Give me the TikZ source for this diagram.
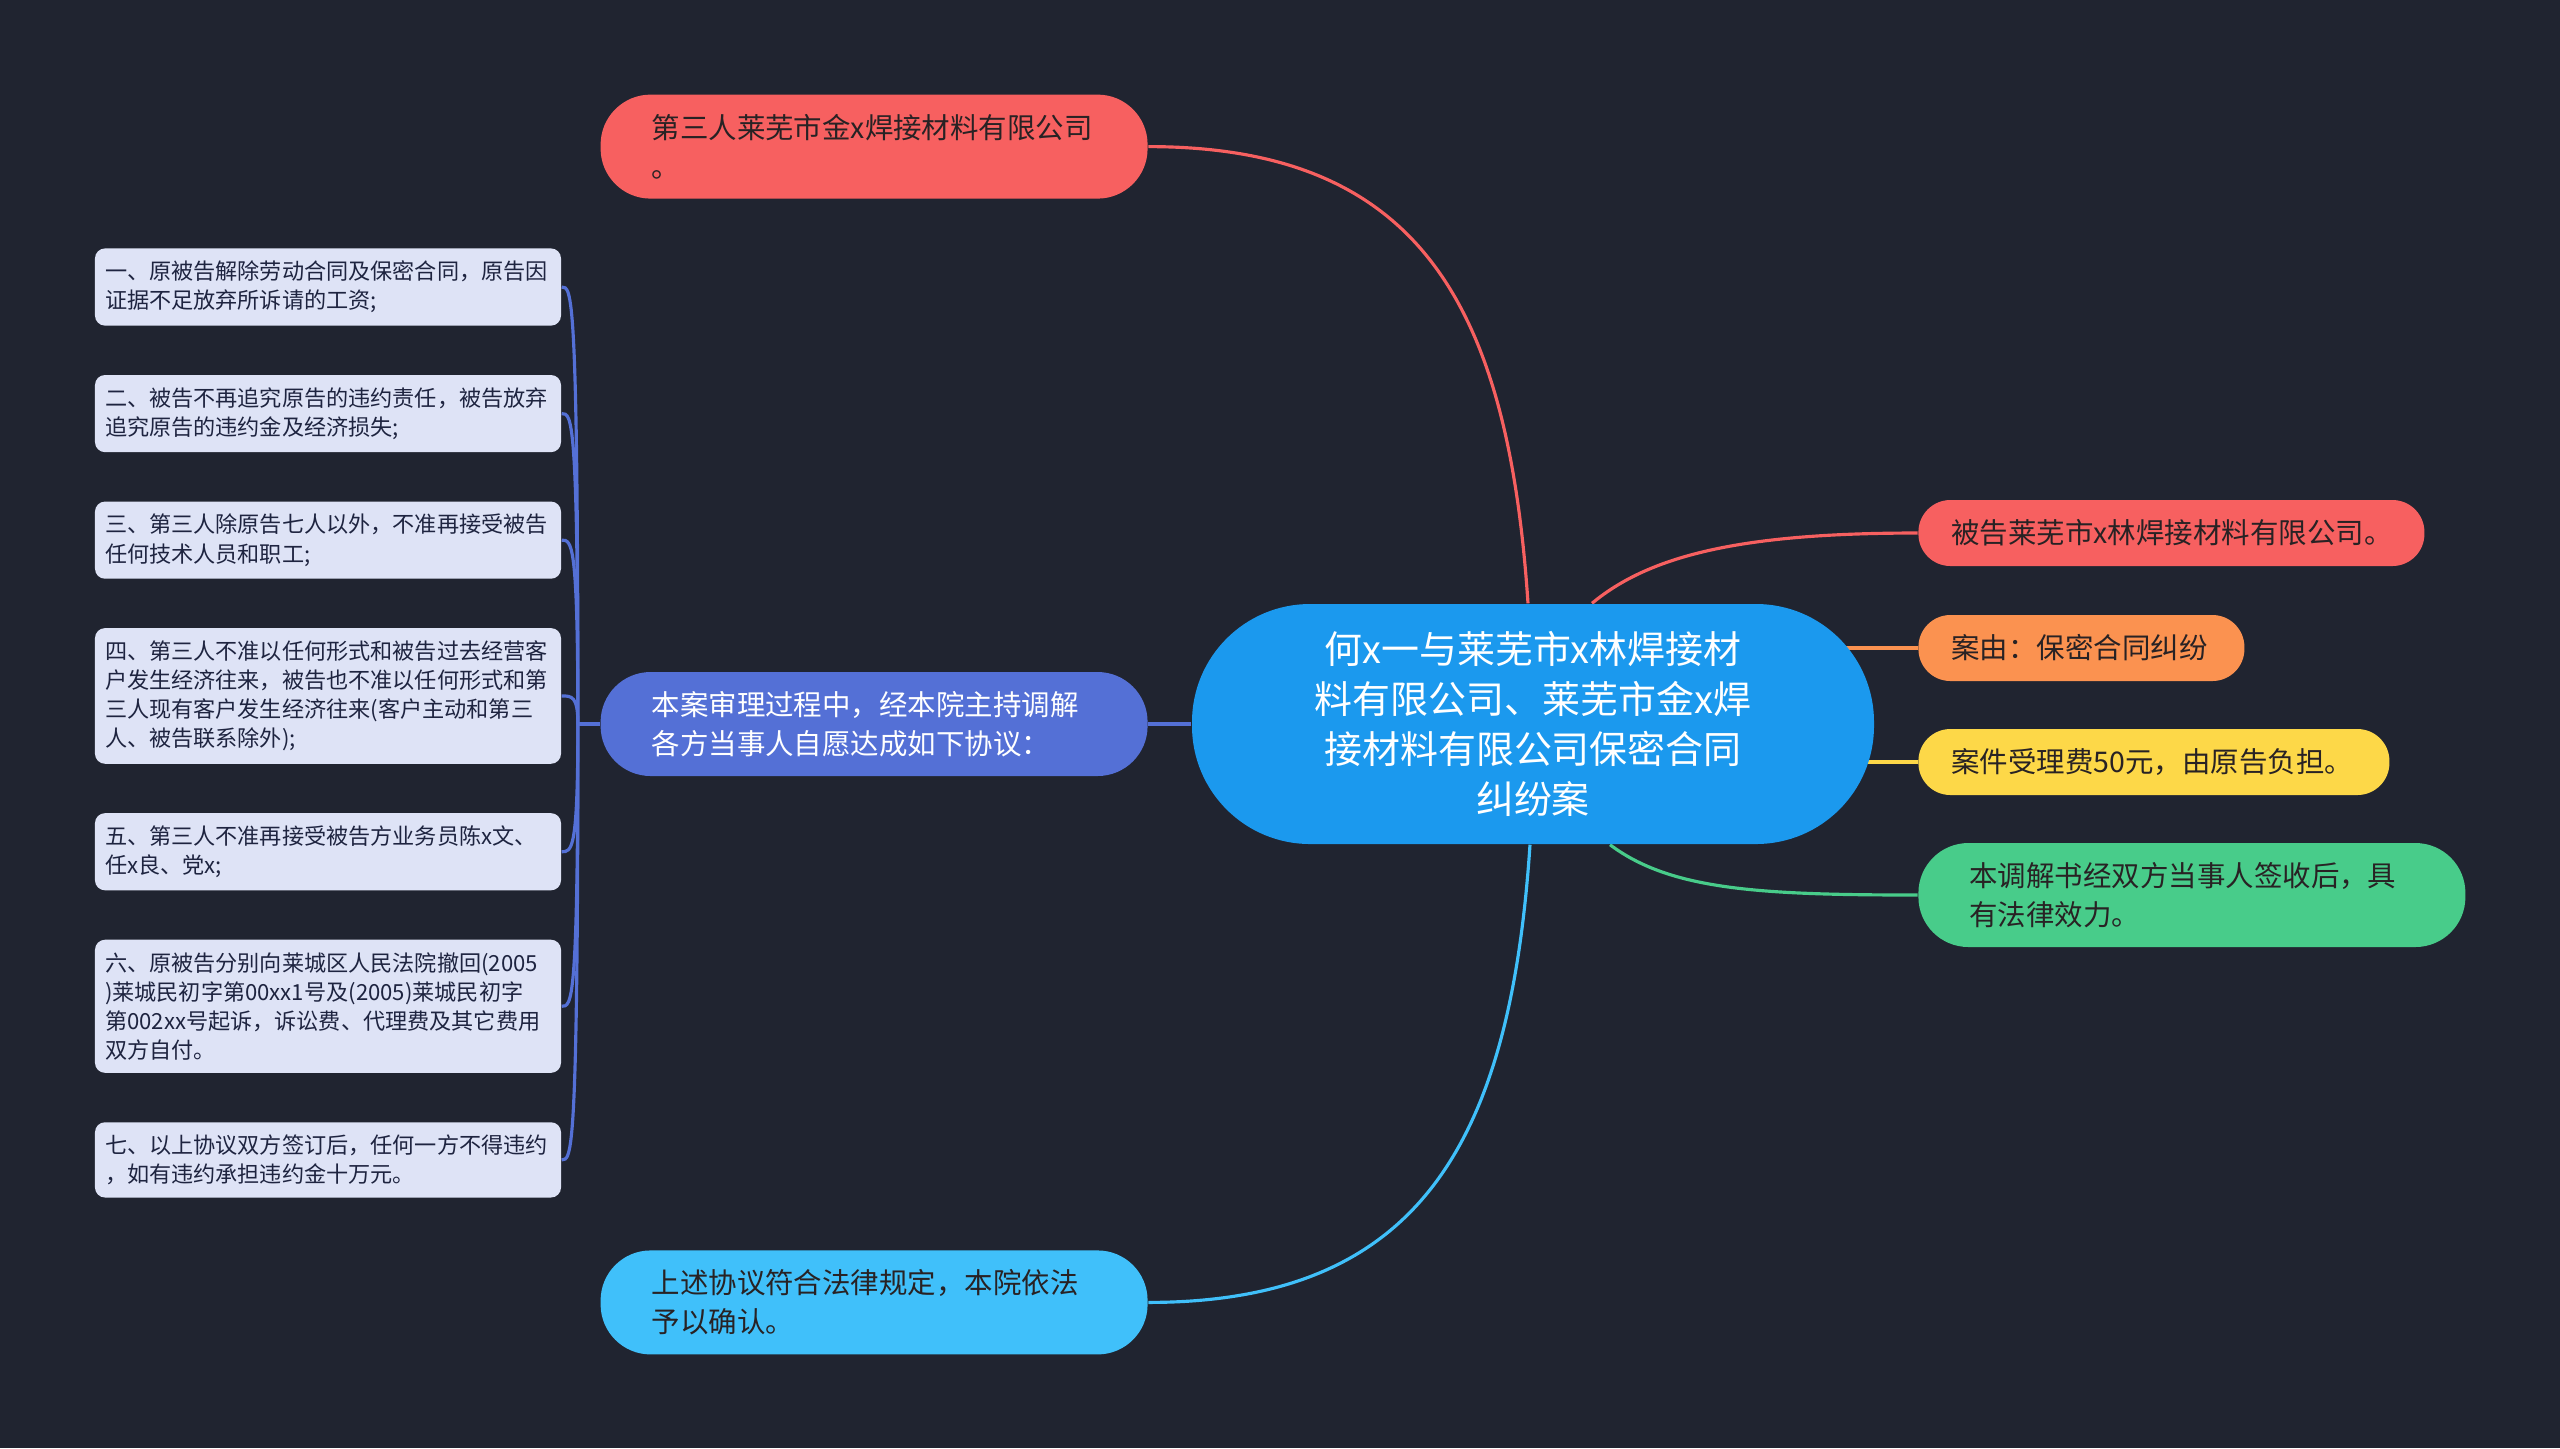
\documentclass[tikz,border=0pt]{standalone}
\usepackage{fontspec}
\setmainfont{Noto Sans CJK SC}
\usepackage{xcolor}
\usepackage{tikz}
\usetikzlibrary{positioning}
\definecolor{mapbg}{RGB}{32,36,48}
\definecolor{rootblue}{RGB}{27,153,238}
\definecolor{coral}{RGB}{247,96,96}
\definecolor{indigo}{RGB}{84,112,214}
\definecolor{skyblue}{RGB}{64,192,250}
\definecolor{mapamber}{RGB}{251,146,80}
\definecolor{mapyellow}{RGB}{253,216,72}
\definecolor{mapgreen}{RGB}{72,204,138}
\definecolor{leafbg}{RGB}{222,227,246}
\definecolor{leaftext}{RGB}{30,36,64}
\definecolor{darktext}{RGB}{40,34,36}
\pgfdeclarelayer{backdrop}
\pgfdeclarelayer{links}
\pgfsetlayers{backdrop,links,main}

\begin{document}
\begin{tikzpicture}[node distance=0.48cm,
  root/.style={rectangle,fill=rootblue,text=white,rounded corners=1.18cm,minimum width=6.82cm,minimum height=2.4cm,text width=4.6cm,align=center,font=\fontsize{10.8}{14.2}\selectfont},
  topic/.style={rectangle,fill=#1,text=darktext,rounded corners=0.5cm,minimum width=5.47cm,minimum height=1.04cm,text width=4.45cm,inner xsep=0.51cm,align=left,font=\fontsize{8.1}{11.2}\selectfont},
  tag/.style={rectangle,fill=#1,text=darktext,rounded corners=0.32cm,minimum height=0.66cm,inner xsep=0.33cm,align=left,font=\fontsize{8.1}{11.2}\selectfont},
  leaf/.style={rectangle,fill=leafbg,text=leaftext,rounded corners=0.1cm,minimum width=4.66cm,text width=4.46cm,inner xsep=0.1cm,inner ysep=0.125cm,align=left,font=\fontsize{6.3}{8.3}\selectfont},
  link/.style={draw=#1,line width=0.9pt}]

  \begin{pgfonlayer}{backdrop}
    \fill[mapbg] (0,0) rectangle (25.6,-14.48);
  \end{pgfonlayer}
  \useasboundingbox (0,0) rectangle (25.6,-14.48);

  \node[root] (root) at (15.33,-7.24) {何x一与莱芜市x林焊接材\\料有限公司、莱芜市金x焊\\接材料有限公司保密合同\\纠纷案};
  \node[topic=indigo,text=white,left=0.43cm of root] (mid) {本案审理过程中，经本院主持调解\\各方当事人自愿达成如下协议：};
  \node[topic=coral,above=4.72cm of mid] (third) {第三人莱芜市金x焊接材料有限公司\\。};
  \node[topic=skyblue,below=4.73cm of mid] (confirm) {上述协议符合法律规定，本院依法\\予以确认。};

  \node[tag=coral,text width=4.4cm,right=0.43cm of root,yshift=1.91cm] (accused) {被告莱芜市x林焊接材料有限公司。};
  \node[tag=mapamber,text width=2.6cm,right=0.43cm of root,yshift=0.76cm] (cause) {案由：保密合同纠纷};
  \node[tag=mapyellow,text width=4.05cm,right=0.43cm of root,yshift=-0.38cm] (fee) {案件受理费50元，由原告负担。};
  \node[topic=mapgreen,right=0.43cm of root,yshift=-1.71cm] (effect) {本调解书经双方当事人签收后，具\\有法律效力。};

  \node[leaf] (a1) at (3.28,-2.87) {一、原被告解除劳动合同及保密合同，原告因\\证据不足放弃所诉请的工资;};
  \node[leaf,below=of a1] (a2) {二、被告不再追究原告的违约责任，被告放弃\\追究原告的违约金及经济损失;};
  \node[leaf,below=of a2] (a3) {三、第三人除原告七人以外，不准再接受被告\\任何技术人员和职工;};
  \node[leaf,below=of a3] (a4) {四、第三人不准以任何形式和被告过去经营客\\户发生经济往来，被告也不准以任何形式和第\\三人现有客户发生经济往来(客户主动和第三\\人、被告联系除外);};
  \node[leaf,below=of a4] (a5) {五、第三人不准再接受被告方业务员陈x文、\\任x良、党x;};
  \node[leaf,below=of a5] (a6) {六、原被告分别向莱城区人民法院撤回(2005\\)莱城民初字第00xx1号及(2005)莱城民初字\\第002xx号起诉，诉讼费、代理费及其它费用\\双方自付。};
  \node[leaf,below=of a6] (a7) {七、以上协议双方签订后，任何一方不得违约\\，如有违约承担违约金十万元。};
  \coordinate[left=0.22cm of mid.west] (fork);

  \begin{pgfonlayer}{links}
    \draw[link=coral] ([xshift=-0.05cm]root.north) .. controls +(-0.2,3) and +(2.7,0) .. (third.east);
    \draw[link=indigo] (root.west) -- (mid.east);
    \draw[link=skyblue] ([xshift=-0.03cm]root.south) .. controls +(-0.2,-3) and +(2.7,0) .. (confirm.east);
    \draw[link=coral] ([xshift=0.59cm]root.north) .. controls +(0.6,0.5) and +(-1.7,0) .. (accused.west);
    \draw[link=mapamber] (cause.west) -- (cause.west -| root.center);
    \draw[link=mapyellow] (fee.west) -- (fee.west -| root.center);
    \draw[link=mapgreen] ([xshift=0.77cm]root.south) .. controls +(0.6,-0.45) and +(-1.6,0) .. (effect.west);
    \draw[link=indigo] (mid.west) -- (fork);
    \draw[link=indigo] (fork) .. controls (fork |- a1.east) and +(0.1,0) .. (a1.east);
    \draw[link=indigo] (fork) .. controls (fork |- a2.east) and +(0.1,0) .. (a2.east);
    \draw[link=indigo] (fork) .. controls (fork |- a3.east) and +(0.1,0) .. (a3.east);
    \draw[link=indigo] (fork) .. controls (fork |- a4.east) and +(0.1,0) .. (a4.east);
    \draw[link=indigo] (fork) .. controls (fork |- a5.east) and +(0.1,0) .. (a5.east);
    \draw[link=indigo] (fork) .. controls (fork |- a6.east) and +(0.1,0) .. (a6.east);
    \draw[link=indigo] (fork) .. controls (fork |- a7.east) and +(0.1,0) .. (a7.east);
  \end{pgfonlayer}
\end{tikzpicture}
\end{document}
